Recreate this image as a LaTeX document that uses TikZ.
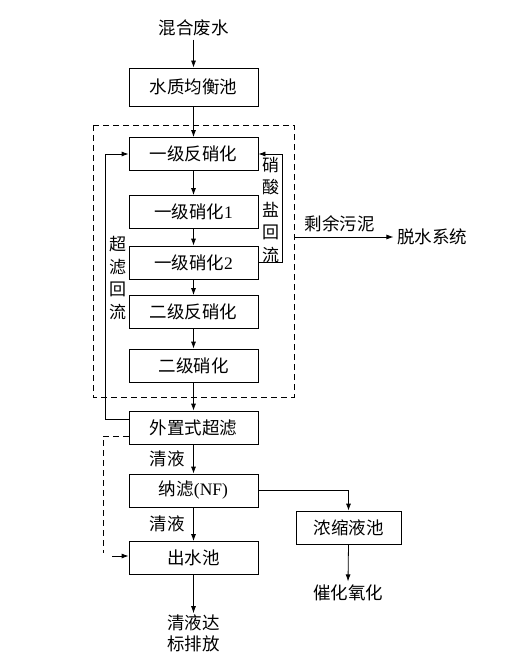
\documentclass[tikz,border=0pt]{standalone}
\usepackage{fontspec}
\setmainfont{Liberation Serif}
\newfontfamily\cjkfont{Noto Sans CJK SC}
\usetikzlibrary{arrows.meta}

\begin{document}
\begin{tikzpicture}[x=1pt,y=-1pt,
  font=\cjkfont\fontsize{17.5}{19}\selectfont,
  unit/.style={draw,line width=0.8pt,minimum width=129pt,minimum height=33pt,inner sep=0pt},
  flow/.style={-{Latex[length=7pt,width=5pt]},line width=0.8pt},
  line/.style={line width=0.8pt},
  vtext/.style={align=center,inner sep=0pt,font=\cjkfont\fontsize{17}{22.5}\selectfont}]
  \useasboundingbox (0,0) rectangle (525,663);

  % main line
  \node (feed) at (193.5,28) {混合废水};
  \node[unit,minimum height=38pt] (eq) at (193.5,87) {水质均衡池};
  \node[unit] (dn1) at (193.5,154) {一级反硝化};
  \node[unit] (ni1) at (193.5,212) {一级硝化{\fontspec{Liberation Serif}1}};
  \node[unit] (ni2) at (193.5,262.5) {一级硝化{\fontspec{Liberation Serif}2}};
  \node[unit] (dn2) at (193.5,312) {二级反硝化};
  \node[unit] (ni3) at (193.5,365.5) {二级硝化};
  \node[unit] (uf) at (193.5,427.5) {外置式超滤};
  \node[unit] (nf) at (193.5,490.5) {纳滤{\fontspec{Liberation Serif}(NF)}};
  \node[unit] (out) at (193.5,558) {出水池};
  \node[unit,minimum width=105pt] (conc) at (348.5,527.5) {浓缩液池};
  \node (cat) at (348,593) {催化氧化};
  \node[align=center,inner sep=1pt,font=\cjkfont\fontsize{17.5}{21}\selectfont] (dis) at (193.5,633) {清液达\\标排放};
  \node (dew) at (432,237) {脱水系统};

  \draw[flow] (feed) -- (eq);
  \draw[flow] (eq) -- (dn1);
  \draw[flow] (dn1) -- (ni1);
  \draw[flow] (ni1) -- (ni2);
  \draw[flow] (ni2) -- (dn2);
  \draw[flow] (dn2) -- (ni3);
  \draw[flow] (ni3) -- (uf);
  \draw[flow] (uf) -- node[left=5pt] {清液} (nf);
  \draw[flow] (nf) -- node[left=5pt] {清液} (out);
  \draw[flow] (out.south) -- (dis.north);
  \draw[flow] (nf.east) -| (conc.north);
  \draw[flow] (conc.south) -- (cat.north);

  % dashed reactor zone
  \draw[line,dashed,dash pattern=on 6pt off 4pt] (93,125) rectangle (294,397);
  \coordinate (zone) at (294,237);
  \draw[flow] (zone) -- node[above=1pt,xshift=-4pt] {剩余污泥} (dew.west);

  % nitrate recycle
  \coordinate (nr) at (282,262.5);
  \draw[flow] (ni2.east) -- (nr) |- (dn1.east);
  \node[vtext] (nrt) at (270.5,210) {硝\\酸\\盐\\回\\流};

  % UF recycle
  \coordinate (ur) at (105,419);
  \draw[flow] (uf.west |- ur) -- (ur) |- (dn1.west);
  \node[vtext] (urt) at (117.5,278) {超\\滤\\回\\流};

  % UF bypass
  \coordinate (ub) at (103,436);
  \draw[line,dashed,dash pattern=on 6pt off 4pt] (uf.west |- ub) -- (ub) -- (103,553);
  \draw[-{Latex[length=7pt,width=5pt]},line width=0.8pt] (112,556) -- (out.west |- 0,556);
\end{tikzpicture}
\end{document}
